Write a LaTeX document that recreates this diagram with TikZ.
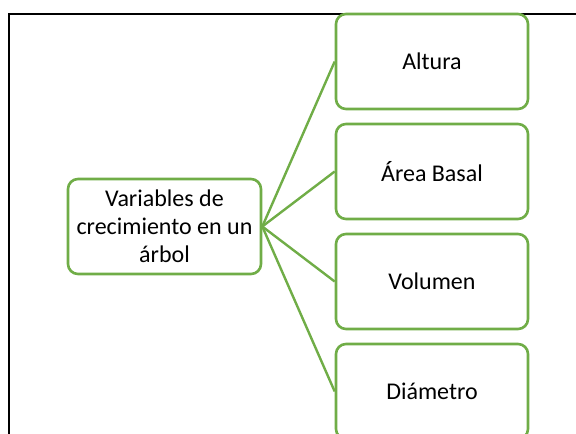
\documentclass[tikz,border=0pt]{standalone}
\usepackage{fontspec}
\setmainfont{Carlito}
\usetikzlibrary{backgrounds}
\definecolor{smgreen}{HTML}{70AD47}
\begin{document}
\begin{tikzpicture}[x=1pt,y=-1pt,
  box/.style={draw=smgreen, line width=2.6pt, fill=white, rounded corners=10pt,
    minimum width=192pt, minimum height=95pt, align=center, inner sep=2pt,
    font=\fontsize{24}{28}\selectfont},
  link/.style={draw=smgreen, line width=2.4pt},
  frame/.style={draw=black, line width=2pt}]
\useasboundingbox (0,0) rectangle (576,434);
\clip (0,0) rectangle (576,434);
\node[box, minimum width=193pt] (root) at (164.5,226.5) {Variables de\\crecimiento en un\\árbol};
\node[box] (a) at (432,61.5) {Altura};
\node[box] (b) at (432,171.5) {Área Basal};
\node[box] (c) at (432,281.5) {Volumen};
\node[box] (d) at (432,391.5) {Diámetro};
\begin{scope}[on background layer]
\coordinate (fb) at (9,440);
\coordinate (fc) at (9,14);
\coordinate (fr) at (580,14);
\draw[frame] (fb) -- (fc) -- (fr);
\draw[link] (root.east) -- (a.west);
\draw[link] (root.east) -- (b.west);
\draw[link] (root.east) -- (c.west);
\draw[link] (root.east) -- (d.west);
\end{scope}
\end{tikzpicture}
\end{document}
